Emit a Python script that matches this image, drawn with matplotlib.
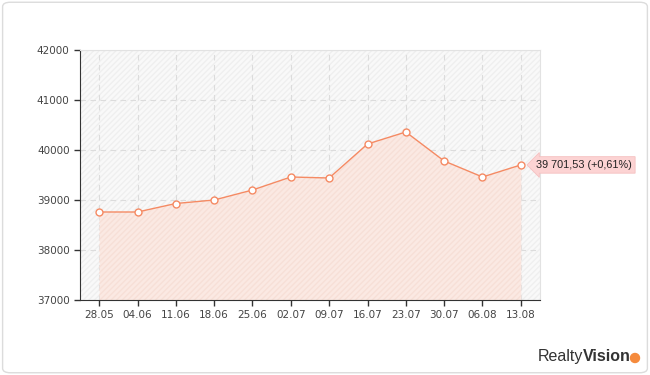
import numpy as np
import matplotlib
matplotlib.use("Agg")
import matplotlib.pyplot as plt
from matplotlib.patches import FancyBboxPatch, Ellipse

dates = ["28.05", "04.06", "11.06", "18.06", "25.06", "02.07",
         "09.07", "16.07", "23.07", "30.07", "06.08", "13.08"]
values = [38760, 38760, 38930, 39000, 39200, 39460,
          39440, 40120, 40360, 39780, 39460, 39701.53]
last_label = "39 701,53 (+0,61%)"
yticks = [37000, 38000, 39000, 40000, 41000, 42000]

line_col = "#f58a63"
x = np.arange(len(dates))

fig = plt.figure(figsize=(6.5, 3.75), dpi=100)
fig.patch.set_facecolor("white")
fig.patches.append(FancyBboxPatch((0.004, 0.006), 0.992, 0.988,
                                  boxstyle="round,pad=0,rounding_size=0.012",
                                  transform=fig.transFigure, fc="white",
                                  ec="#dcdcdc", lw=1, zorder=-1))

ax = fig.add_axes([80 / 650, 75 / 375, 460 / 650, 250 / 375])
ax.set_facecolor("#f9f9f9")
ax.fill_between([-0.5, 11.5], 37000, 42000, facecolor="none",
                edgecolor="#efefef", hatch="//////", lw=0, zorder=0)
ax.fill_between(x, values, 37000, color="#fbe9e3", lw=0, zorder=1)
ax.fill_between(x, values, 37000, facecolor="none", edgecolor="#f7dfd7",
                hatch="//////", lw=0, zorder=1)

ax.grid(True, color="#dcdcdc", linestyle=(0, (5, 4)), lw=0.8, zorder=2)
ax.set_axisbelow(True)
ax.plot(x, values, color=line_col, lw=1, zorder=3)
ax.plot(x, values, "o", ms=5, mfc="white", mec=line_col, mew=1, zorder=4)

ax.set_xlim(-0.5, 11.5)
ax.set_ylim(37000, 42000)
ax.set_xticks(x)
ax.set_xticklabels(dates)
ax.set_yticks(yticks)
ax.tick_params(direction="out", length=4, width=1, colors="#333333",
               labelsize=7.5, labelcolor="#444444")
for s in ["left", "bottom"]:
    ax.spines[s].set_color("#333333")
for s in ["top", "right"]:
    ax.spines[s].set_color("#e2e2e2")

ax.annotate(last_label, xy=(x[-1], values[-1]), xytext=(11, 0),
            textcoords="offset points", va="center", ha="left",
            fontsize=7.8, family="Liberation Sans", color="#222222",
            annotation_clip=False,
            bbox=dict(boxstyle="larrow,pad=0.3", fc="#fcd3d3", ec="#f5c0c0", lw=0.6),
            zorder=5)

# watermark
fig.text(583 / 650, 1 - 361 / 375, "Realty", fontsize=11.5, family="Liberation Sans",
         color="#333333", ha="right", va="baseline")
fig.text(583 / 650, 1 - 361 / 375, "Vision", fontsize=11.5, family="Liberation Sans",
         color="#333333", ha="left", va="baseline", fontweight="bold")
fig.patches.append(Ellipse((635 / 650, 1 - 358 / 375), 9 / 650, 9 / 375,
                           transform=fig.transFigure, color="#f58a3c"))

fig.savefig("out.png", dpi=100)
